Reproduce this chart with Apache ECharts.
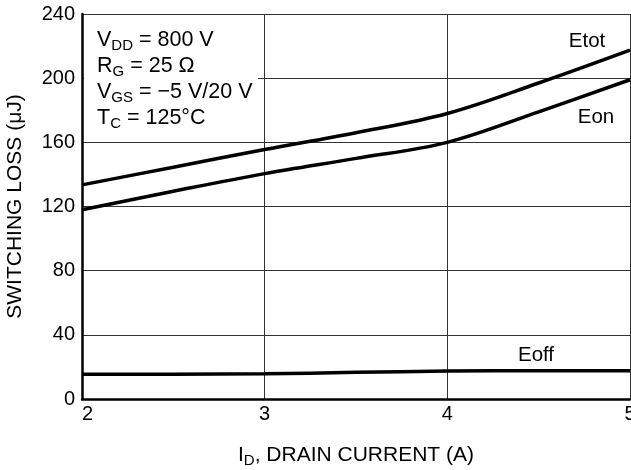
<!DOCTYPE html>
<html>
<head>
<meta charset="utf-8">
<script src="https://cdn.jsdelivr.net/npm/echarts@6/dist/echarts.min.js"></script>
<style>
  html, body { margin: 0; padding: 0; background: #fff; }
  #main { width: 631px; height: 470px; }
</style>
</head>
<body>
<div id="main"></div>
<script>
// drain current (A)
var current = [2, 2.5, 3, 3.5, 4, 4.5, 5];
// switching losses (uJ)
var etot = [133.5, 144.5, 155.5, 166, 178, 197, 217.5];
var eon = [118, 129.5, 140.5, 150, 160, 179, 199];
var eoff = [15.5, 15.5, 15.7, 16.6, 17.4, 17.6, 17.6];
var xTicks = [2, 3, 4, 5];
var yTicks = [0, 40, 80, 120, 160, 200, 240];

var chartDom = document.getElementById("main");
var myChart = echarts.init(chartDom);
var font = "Liberation Sans";

function pairs(ys) {
  return current.map(function (x, i) {
    return [x, ys[i]];
  });
}

var subRich = {
  m: { fontFamily: font, fontSize: 21.5, color: "#000" },
  s: { fontFamily: font, fontSize: 15, color: "#000", padding: [12, 0, 0, 0] },
};

function note(text, y) {
  return {
    type: "text",
    x: 97,
    y: y,
    z: 11,
    style: { text: text, rich: subRich, verticalAlign: "middle", fill: "#000" },
  };
}

function curveLabel(text, x, y) {
  return {
    type: "text",
    x: x,
    y: y,
    z: 11,
    style: {
      text: text,
      fontFamily: font,
      fontSize: 20.5,
      fill: "#000",
      align: "center",
      verticalAlign: "middle",
    },
  };
}

function lineSeries(name, ys) {
  return {
    name: name,
    type: "line",
    data: pairs(ys),
    smooth: 0.35,
    showSymbol: false,
    lineStyle: { color: "#000", width: 3.5 },
    z: 5,
  };
}

var option = {
  animation: false,
  backgroundColor: "#fff",
  grid: { left: 82, right: 1, top: 14, bottom: 71, outerBoundsMode: "none" },
  xAxis: {
    type: "value",
    min: xTicks[0],
    max: xTicks[xTicks.length - 1],
    interval: 1,
    name: "{m|I}{s|D}{m|, DRAIN CURRENT (A)}",
    nameLocation: "middle",
    nameGap: 43,
    nameTextStyle: {
      rich: {
        m: { fontFamily: font, fontSize: 21, color: "#000" },
        s: { fontFamily: font, fontSize: 15, color: "#000", padding: [11, 0, 0, 0] },
      },
    },
    axisLine: { show: true, onZero: false, lineStyle: { color: "#000", width: 2.5 } },
    axisTick: { show: false },
    axisLabel: { fontFamily: font, fontSize: 20, color: "#000", margin: 5, alignMinLabel: "left" },
    splitLine: { show: true, lineStyle: { color: "#333", width: 1 } },
  },
  yAxis: {
    type: "value",
    min: yTicks[0],
    max: yTicks[yTicks.length - 1],
    interval: 40,
    name: "SWITCHING LOSS (\u03bcJ)",
    nameLocation: "middle",
    nameGap: 56,
    nameTextStyle: { fontFamily: font, fontSize: 21, color: "#000" },
    axisLine: { show: true, onZero: false, lineStyle: { color: "#000", width: 2.5 } },
    axisTick: { show: false },
    axisLabel: { fontFamily: font, fontSize: 20, color: "#000", margin: 7 },
    splitLine: { show: true, lineStyle: { color: "#333", width: 1 } },
  },
  graphic: [
    {
      type: "rect",
      z: 10,
      shape: { x: 84, y: 15, width: 174, height: 118 },
      style: { fill: "#fff" },
    },
    note("{m|V}{s|DD}{m| = 800 V}", 40),
    note("{m|R}{s|G}{m| = 25 \u03a9}", 66),
    note("{m|V}{s|GS}{m| = \u22125 V/20 V}", 92),
    note("{m|T}{s|C}{m| = 125\u00b0C}", 118),
    curveLabel("Etot", 587, 41),
    curveLabel("Eon", 596, 117),
    curveLabel("Eoff", 536, 355),
  ],
  series: [lineSeries("Etot", etot), lineSeries("Eon", eon), lineSeries("Eoff", eoff)],
};

option && myChart.setOption(option);
</script>
</body>
</html>
